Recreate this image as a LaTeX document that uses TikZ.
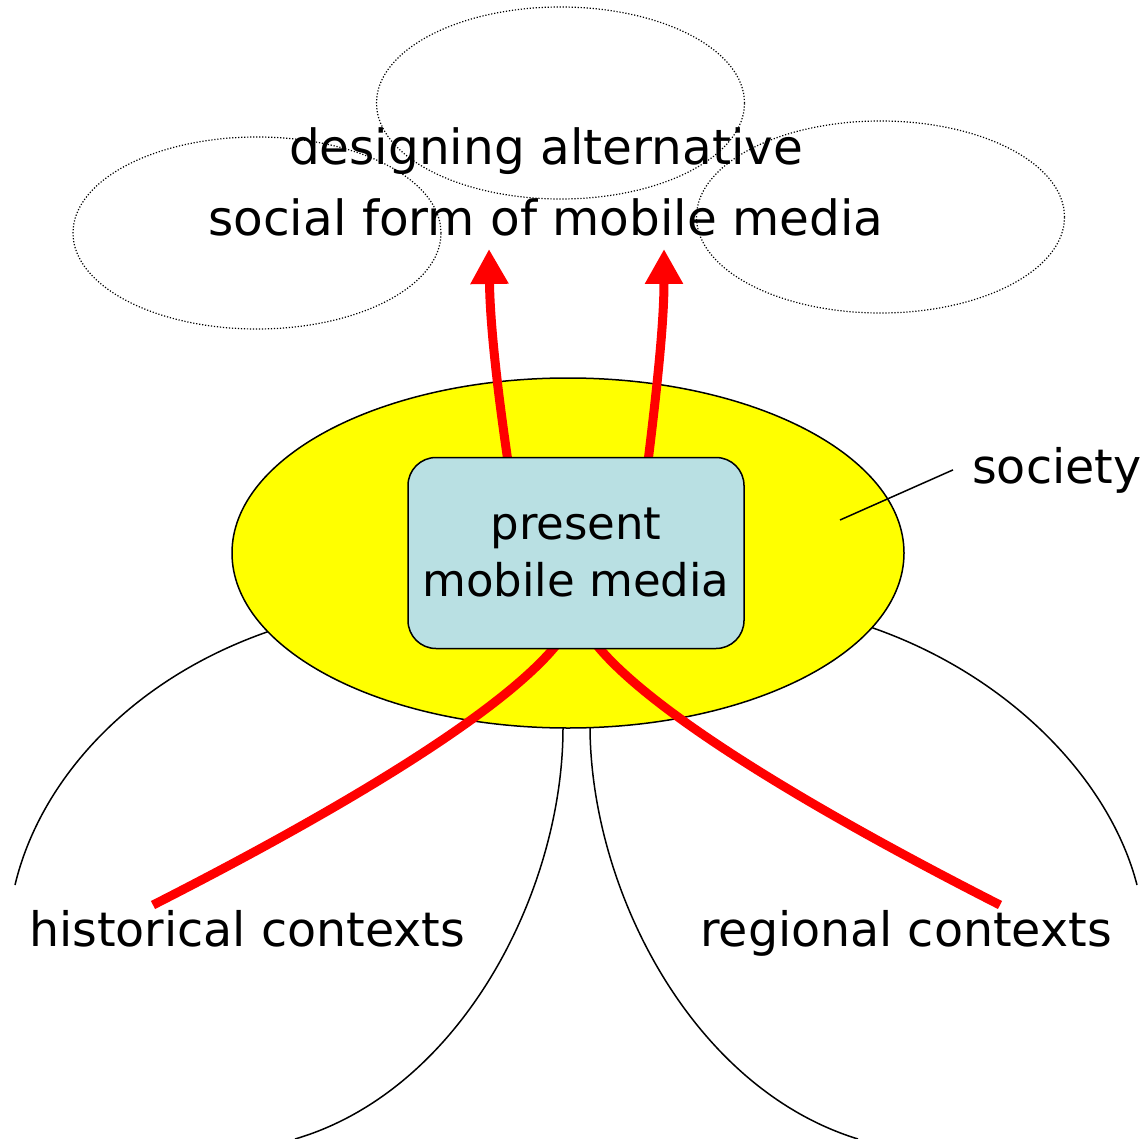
\documentclass[tikz,border=0pt]{standalone}
\usepackage{fontspec}
\setmainfont{DejaVu Sans}
\usetikzlibrary{arrows.meta,shapes.geometric,calc}
\pgfdeclarelayer{bg}
\pgfsetlayers{bg,main}
\definecolor{boxblue}{RGB}{185,224,227}
\definecolor{pureyellow}{RGB}{255,255,0}
\definecolor{purered}{RGB}{255,0,0}
\begin{document}
\begin{tikzpicture}[x=1pt,y=-1pt,
  cloud/.style={ellipse,draw,line width=1.2pt,dash pattern=on 1.2pt off 1.8pt,minimum width=368pt,minimum height=192pt,inner sep=0pt},
  lbl/.style={font=\fontsize{47.5}{56}\selectfont,inner sep=0pt},
  redline/.style={draw=purered,line width=9pt},
  petal/.style={draw=black,line width=1.5pt}]
\useasboundingbox (0,0) rectangle (1142,1139);
% dotted clouds
\node[cloud] (c1) at (257,233) {};
\node[cloud] (c2) at (560.5,103) {};
\node[cloud] (c3) at (880.5,217) {};
\node[lbl,align=center,font=\fontsize{48.5}{71}\selectfont] (title) at (546,182) {designing alternative\\social form of mobile media};
% central box
\node[draw,line width=1.5pt,fill=boxblue,rounded corners=28pt,minimum width=336pt,minimum height=191pt,align=center,font=\fontsize{45}{57}\selectfont,inner sep=0pt] (pmm) at (576,553) {present\\mobile media};
% coordinates
\coordinate (tipL) at (489,249);
\coordinate (tipR) at (664,249);
\coordinate (hcEnd) at (153,905);
\coordinate (rcEnd) at (1000,905);
\coordinate (socpt) at (840,520);
\begin{pgfonlayer}{bg}
  \draw[petal] (300,618) -- (267,632) .. controls (130,680) and (40,780) .. (15,885);
  \draw[petal] (563,715) -- (563,728) .. controls (563,890) and (462,1090) .. (295,1139);
  \draw[petal] (840,614) -- (873,628) .. controls (1010,676) and (1110,780) .. (1137,885);
  \draw[petal] (590,715) -- (590,728) .. controls (591,890) and (692,1088) .. (858,1139);
  \node[ellipse,draw,line width=1.5pt,fill=pureyellow,minimum width=672pt,minimum height=350pt,inner sep=0pt] (soc) at (568,553) {};
  \draw[redline,-{Triangle[width=36pt,length=35pt]}] ($(pmm.north)+(-68,5)$) .. controls (496,380) and (490,320) .. (tipL);
  \draw[redline,-{Triangle[width=36pt,length=35pt]}] ($(pmm.north)+(72,5)$) .. controls (658,380) and (664,320) .. (tipR);
  \draw[redline] ($(pmm.south)+(-19,-5)$) .. controls (500,715) and (330,815) .. (hcEnd);
  \draw[redline] ($(pmm.south)+(20,-5)$) .. controls (653,715) and (823,815) .. (rcEnd);
\end{pgfonlayer}
% labels
\node[lbl,anchor=base west] (socl) at (972,483) {society};
\draw[line width=1.5pt] (socpt) -- ([xshift=-19pt]socl.west);
\node[lbl,anchor=base] (hist) at (247,946) {historical contexts};
\node[lbl,anchor=base] (reg) at (906,946) {regional contexts};
\end{tikzpicture}
\end{document}
